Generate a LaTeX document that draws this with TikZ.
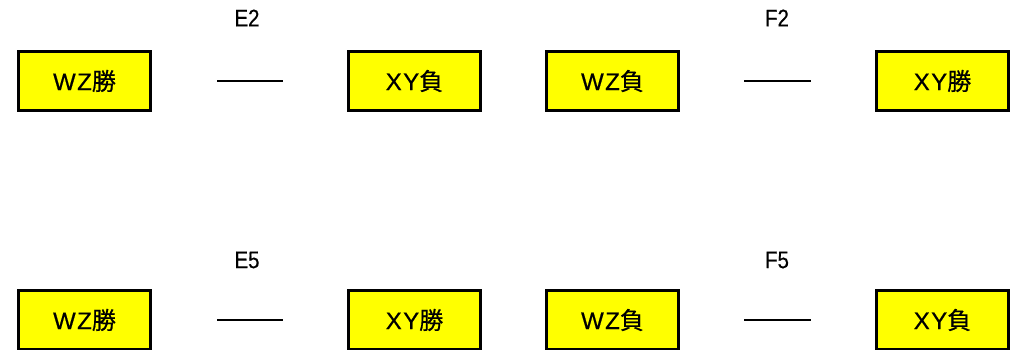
\documentclass[tikz,border=0pt]{standalone}
\usepackage{fontspec}
\setmainfont{Liberation Sans}
\newfontfamily\boxfont[LetterSpace=6,FakeBold=0.6]{Liberation Sans}
\newfontfamily\cjk[LetterSpace=6,FakeBold=0.6]{Noto Sans CJK JP}
\newfontfamily\labelfont[FakeStretch=0.85,FakeBold=0.5]{Liberation Sans}
\definecolor{boxyellow}{HTML}{FFFF00}
\tikzset{
  teambox/.style={draw=black, line width=3pt, fill=boxyellow, minimum width=132pt, minimum height=59pt, inner sep=0pt, font=\fontsize{24}{28}\selectfont\boxfont},
  dashline/.style={draw=black, line width=2pt},
  caption/.style={inner sep=0pt, font=\fontsize{24}{28}\selectfont\labelfont}
}
\begin{document}
\begin{tikzpicture}[x=1pt, y=-1pt]
\useasboundingbox (0,0) rectangle (1018,350);
% top row
\node[teambox] (a1) at (84.5,81) {WZ{\cjk 勝}};
\node[teambox] (b1) at (414.5,81) {XY{\cjk 負}};
\node[teambox] (c1) at (612.5,81) {WZ{\cjk 負}};
\node[teambox] (d1) at (942.5,81) {XY{\cjk 勝}};
\node[caption] (e2) at (247,18) {E2};
\node[caption] (f2) at (777,18) {F2};
\coordinate (l1a) at (217,81);
\coordinate (l1b) at (283,81);
\coordinate (r1a) at (744,81);
\coordinate (r1b) at (811,81);
\draw[dashline] (l1a) -- (l1b);
\draw[dashline] (r1a) -- (r1b);
% bottom row
\node[teambox] (a2) at (84.5,320) {WZ{\cjk 勝}};
\node[teambox] (b2) at (414.5,320) {XY{\cjk 勝}};
\node[teambox] (c2) at (612.5,320) {WZ{\cjk 負}};
\node[teambox] (d2) at (942.5,320) {XY{\cjk 負}};
\node[caption] (e5) at (247,260) {E5};
\node[caption] (f5) at (777,260) {F5};
\coordinate (l2a) at (217,320);
\coordinate (l2b) at (283,320);
\coordinate (r2a) at (744,320);
\coordinate (r2b) at (811,320);
\draw[dashline] (l2a) -- (l2b);
\draw[dashline] (r2a) -- (r2b);
\end{tikzpicture}
\end{document}
